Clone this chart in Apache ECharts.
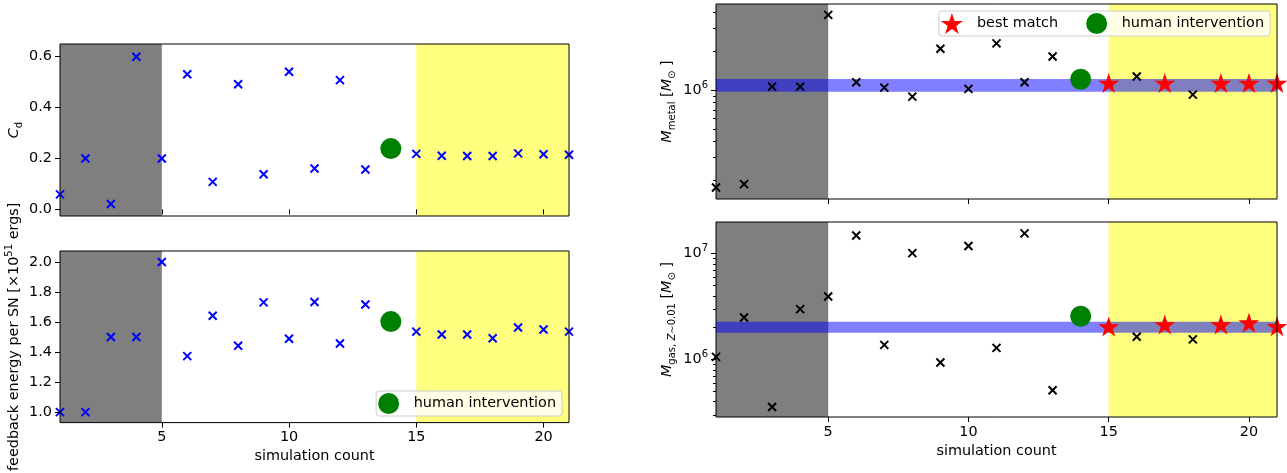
<!DOCTYPE html>
<html>
<head>
<meta charset="utf-8">
<script src="https://cdn.jsdelivr.net/npm/echarts@6/dist/echarts.min.js"></script>
<style>
  html, body { margin: 0; padding: 0; background: #fff; }
  #chart { width: 1287px; height: 473px; }
</style>
</head>
<body>
<div id="chart"></div>
<script>
// simulation index on the x axis
const simCount = [1, 2, 3, 4, 5, 6, 7, 8, 9, 10, 11, 12, 13, 14, 15, 16, 17, 18, 19, 20, 21];

// left panels (null = replaced by the human intervention point)
const cd = [0.059, 0.2, 0.021, 0.6, 0.2, 0.531, 0.108, 0.492, 0.138, 0.541, 0.161, 0.508, 0.157,
  null, 0.218, 0.211, 0.21, 0.21, 0.22, 0.217, 0.215];
const energy = [1.0, 1.0, 1.5, 1.5, 2.0, 1.373, 1.642, 1.442, 1.731, 1.488, 1.733, 1.457, 1.717,
  null, 1.536, 1.517, 1.517, 1.492, 1.563, 1.55, 1.536];

// right panels, solar masses
const mMetal = [1.76e5, 1.87e5, 1.06e6, 1.06e6, 3.8e6, 1.146e6, 1.042e6, 8.88e5, 2.08e6, 1.018e6,
  2.29e6, 1.146e6, 1.81e6, null, 1.13e6, 1.27e6, 1.13e6, 9.2e5, 1.13e6, 1.13e6, 1.13e6];
const mGas = [1.06e6, 2.49e6, 3.57e5, 2.99e6, 3.93e6, 1.48e7, 1.375e6, 1.01e7, 9.37e5, 1.18e7,
  1.29e6, 1.55e7, 5.14e5, null, 2.05e6, 1.64e6, 2.14e6, 1.55e6, 2.14e6, 2.23e6, 2.06e6];

const bestMatch = [15, 17, 19, 20, 21];
const humanX = 14;
const humanCd = 0.239;
const humanEnergy = 1.603;
const humanMetal = 1.21e6;
const humanGas = 2.56e6;

const metalBand = [9.7e5, 1.215e6];
const gasBand = [1.79e6, 2.27e6];
const burnIn = [1, 5];
const converged = [15, 21];

// ticks
const xTicks = [5, 10, 15, 20];
const cdTicks = [0, 0.2, 0.4, 0.6];
const energyTicks = [1.0, 1.2, 1.4, 1.6, 1.8, 2.0];
const metalTicks = [1e6];
const metalMinor = [2e5, 3e5, 4e5, 5e5, 6e5, 7e5, 8e5, 9e5, 2e6, 3e6, 4e6];
const gasTicks = [1e6, 1e7];
const gasMinor = [3e5, 4e5, 5e5, 6e5, 7e5, 8e5, 9e5, 2e6, 3e6, 4e6, 5e6, 6e6, 7e6, 8e6, 9e6];

const FONT = 'DejaVu Sans';
const FS = 14.4;
const CROSS = 'path://M0,0L10,10M10,0L0,10';
const STAR = (() => {
  const pts = [];
  for (let i = 0; i < 10; i++) {
    const a = (-90 + i * 36) * Math.PI / 180;
    const r = i % 2 ? 0.381966 : 1;
    pts.push((r * Math.cos(a)).toFixed(4) + ',' + (r * Math.sin(a)).toFixed(4));
  }
  return 'path://M' + pts.join('L') + 'Z';
})();

const lg = Math.log10;
const pairs = (vals, skip) => simCount
  .map((x, i) => [x, vals[i]])
  .filter(p => p[1] != null && !(skip && skip.includes(p[0])));
const pick = (vals, xs) => xs.map(x => [x, vals[simCount.indexOf(x)]]);
const toLog = arr => arr.map(p => [p[0], lg(p[1])]);

const chart = echarts.init(document.getElementById('chart'));

const grids = [
  { left: 60, top: 44, width: 509, height: 172 },
  { left: 60, top: 251, width: 509, height: 172 },
  { left: 716, top: 4, width: 561, height: 195 },
  { left: 716, top: 222, width: 561, height: 195 },
].map(g => Object.assign(g, { show: true, borderColor: '#000', borderWidth: 1, backgroundColor: 'transparent', z: 10 }));

const tick = { show: true, length: 5, lineStyle: { color: '#000', width: 1 } };
const lbl = { color: '#000', fontFamily: FONT, fontSize: FS, margin: 8 };

const xAxis = [0, 1, 2, 3].map(i => ({
  type: 'value', gridIndex: i, min: 1, max: 21, z: 10,
  axisLine: { show: false },
  splitLine: { show: false },
  axisTick: Object.assign({ customValues: xTicks }, tick),
  axisLabel: Object.assign({ show: i === 1 || i === 3, customValues: xTicks }, lbl),
  name: i === 1 || i === 3 ? 'simulation count' : '',
  nameLocation: 'middle', nameGap: 27,
  nameTextStyle: { color: '#000', fontFamily: FONT, fontSize: FS },
}));

const nameStyle = {
  color: '#000', fontFamily: FONT, fontSize: FS, lineHeight: 20,
  rich: {
    i: { fontFamily: FONT, fontSize: FS, fontStyle: 'italic', lineHeight: 20, color: '#000' },
    n: { fontFamily: FONT, fontSize: FS, lineHeight: 20, color: '#000' },
    sub: { fontFamily: FONT, fontSize: 10, lineHeight: 11, verticalAlign: 'bottom', color: '#000' },
    subi: { fontFamily: FONT, fontSize: 10, fontStyle: 'italic', lineHeight: 11, verticalAlign: 'bottom', color: '#000' },
    sup: { fontFamily: FONT, fontSize: 10, lineHeight: 11, verticalAlign: 'top', color: '#000' },
  },
};
const logLbl = Object.assign({}, lbl, {
  lineHeight: 20,
  formatter: v => '{b|10}{s|' + Math.round(v) + '}',
  rich: {
    b: { fontFamily: FONT, fontSize: FS, lineHeight: 20, color: '#000' },
    s: { fontFamily: FONT, fontSize: 10, lineHeight: 12, verticalAlign: 'top', color: '#000' },
  },
});

const yAxis = [
  {
    type: 'value', gridIndex: 0, min: -0.026, max: 0.65, z: 10,
    axisLine: { show: false }, splitLine: { show: false },
    axisTick: Object.assign({ customValues: cdTicks }, tick),
    axisLabel: Object.assign({ customValues: cdTicks, formatter: v => v.toFixed(1) }, lbl),
    name: '{i|C}{sub|d}', nameLocation: 'middle', nameGap: 36, nameTextStyle: nameStyle,
  },
  {
    type: 'value', gridIndex: 1, min: 0.93, max: 2.073, z: 10,
    axisLine: { show: false }, splitLine: { show: false },
    axisTick: Object.assign({ customValues: energyTicks }, tick),
    axisLabel: Object.assign({ customValues: energyTicks, formatter: v => v.toFixed(1) }, lbl),
    name: 'feedback energy per SN [×10{sup|51} ergs]', nameLocation: 'middle', nameGap: 36, nameTextStyle: nameStyle,
  },
  {
    type: 'value', gridIndex: 2, min: 5.157, max: 6.664, z: 10,
    axisLine: { show: false }, splitLine: { show: false },
    axisTick: Object.assign({ customValues: metalTicks.map(lg) }, tick),
    axisLabel: Object.assign({ customValues: metalTicks.map(lg) }, logLbl),
    name: '{i|M}{sub|metal}{n| [}{i|M}{sub|⊙}{n| ]}', nameLocation: 'middle', nameGap: 39, nameTextStyle: nameStyle,
  },
  {
    type: 'value', gridIndex: 3, min: 5.458, max: 7.298, z: 10,
    axisLine: { show: false }, splitLine: { show: false },
    axisTick: Object.assign({ customValues: gasTicks.map(lg) }, tick),
    axisLabel: Object.assign({ customValues: gasTicks.map(lg) }, logLbl),
    name: '{i|M}{sub|gas, }{subi|Z}{sub|∼0.01}{n| [}{i|M}{sub|⊙}{n| ]}', nameLocation: 'middle', nameGap: 39, nameTextStyle: nameStyle,
  },
  // minor ticks for the log panels
  {
    type: 'value', gridIndex: 2, position: 'left', offset: 0, min: 5.157, max: 6.664, z: 10,
    axisLine: { show: false }, splitLine: { show: false }, axisLabel: { show: false },
    axisTick: { show: true, length: 3, customValues: metalMinor.map(lg), lineStyle: { color: '#000', width: 1 } },
  },
  {
    type: 'value', gridIndex: 3, position: 'left', offset: 0, min: 5.458, max: 7.298, z: 10,
    axisLine: { show: false }, splitLine: { show: false }, axisLabel: { show: false },
    axisTick: { show: true, length: 3, customValues: gasMinor.map(lg), lineStyle: { color: '#000', width: 1 } },
  },
];

const spans = (i, band) => {
  const data = [
    [{ xAxis: burnIn[0], itemStyle: { color: 'rgba(0,0,0,0.5)' } }, { xAxis: burnIn[1] }],
    [{ xAxis: converged[0], itemStyle: { color: 'rgba(255,255,0,0.5)' } }, { xAxis: converged[1] }],
  ];
  if (band) data.push([{ yAxis: lg(band[0]), itemStyle: { color: 'rgba(0,0,255,0.5)' } }, { yAxis: lg(band[1]) }]);
  return {
    type: 'scatter', xAxisIndex: i, yAxisIndex: i, data: [], silent: true, z: 1,
    markArea: { silent: true, label: { show: false }, data },
  };
};
const crosses = (i, data, color) => ({
  type: 'scatter', xAxisIndex: i, yAxisIndex: i, data, z: 3,
  symbol: CROSS, symbolSize: 8,
  itemStyle: { color, borderColor: color, borderWidth: 2, opacity: 1 },
});
const stars = (i, data) => ({
  name: 'best match', type: 'scatter', xAxisIndex: i, yAxisIndex: i, data, z: 4,
  symbol: STAR, symbolSize: 21, symbolKeepAspect: true,
  itemStyle: { color: '#ff0000', opacity: 1 },
});
const human = (i, y) => ({
  name: 'human intervention', type: 'scatter', xAxisIndex: i, yAxisIndex: i, data: [[humanX, y]], z: 5,
  symbol: 'circle', symbolSize: 21,
  itemStyle: { color: '#008000', opacity: 1 },
});

const series = [
  spans(0), crosses(0, pairs(cd), '#0000ff'), human(0, humanCd),
  spans(1), crosses(1, pairs(energy), '#0000ff'), human(1, humanEnergy),
  spans(2, metalBand), crosses(2, toLog(pairs(mMetal, bestMatch)), '#000'),
  stars(2, toLog(pick(mMetal, bestMatch))), human(2, lg(humanMetal)),
  spans(3, gasBand), crosses(3, toLog(pairs(mGas, bestMatch)), '#000'),
  stars(3, toLog(pick(mGas, bestMatch))), human(3, lg(humanGas)),
];

const legendBase = {
  orient: 'horizontal', selectedMode: false,
  itemWidth: 28, itemHeight: 21, itemGap: 28,
  padding: [2, 6, 2, 2],
  backgroundColor: 'rgba(255,255,255,0.8)', borderColor: '#cccccc', borderWidth: 1, borderRadius: 3,
  textStyle: { color: '#000', fontFamily: FONT, fontSize: FS, padding: [0, 0, 0, 6] },
  z: 20,
};

chart.setOption({
  animation: false,
  grid: grids,
  xAxis,
  yAxis,
  legend: [
    Object.assign({ right: 725, bottom: 57, data: [{ name: 'human intervention', icon: 'circle' }] }, legendBase),
    Object.assign({ right: 17, top: 11, data: [{ name: 'best match', icon: STAR }, { name: 'human intervention', icon: 'circle' }] }, legendBase),
  ],
  series,
});
</script>
</body>
</html>
